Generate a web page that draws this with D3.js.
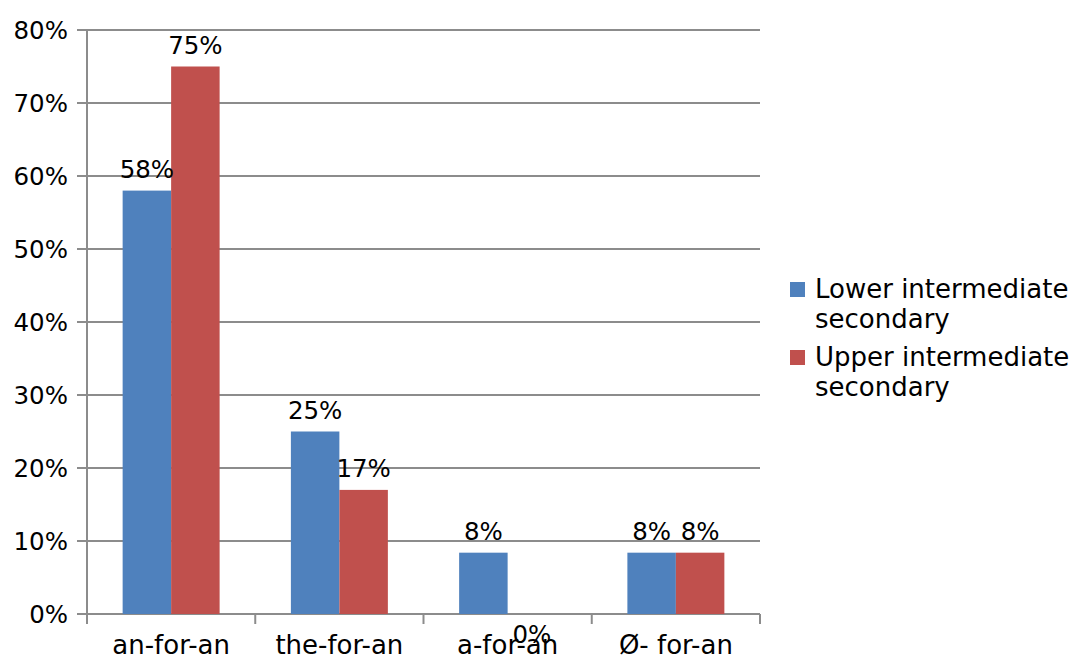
<!DOCTYPE html>
<meta charset="utf-8">
<style>
    body { margin: 0; background: #fff; }
    text { font-family: "DejaVu Sans", sans-serif; font-size: 24.5px; fill: #000; }
    .cat, .legend text { font-size: 26px; }
</style>
<svg width="1071" height="659"></svg>
<script src="https://cdnjs.cloudflare.com/ajax/libs/d3/7.8.5/d3.min.js"></script>
<script>

    var categories = ["an-for-an", "the-for-an", "a-for-an", "Ø- for-an"];
    var seriesNames = ["Lower intermediate secondary", "Upper intermediate secondary"];
    var lowerValues = [0.58, 0.25, 0.084, 0.084];
    var upperValues = [0.75, 0.17, 0, 0.084];
    var yTicks = [0, 0.1, 0.2, 0.3, 0.4, 0.5, 0.6, 0.7, 0.8];
    var colors = ["#4F81BD", "#C0504D"];

    var svg = d3.select("svg");
    var plotLeft = 87, plotRight = 760, plotTop = 30, plotBottom = 614;

    var x = d3.scaleBand().domain(categories).range([plotLeft, plotRight]);
    var xs = d3.scaleBand().domain([0, 1]).range([0, x.bandwidth()]).paddingInner(0).paddingOuter(0.735);
    var y = d3.scaleLinear().domain([0, 0.8]).range([plotBottom, plotTop]);

    // gridlines
    svg.append("g")
        .selectAll("line")
        .data(yTicks)
        .enter()
        .append("line")
        .attr("x1", plotLeft - 10)
        .attr("x2", plotRight)
        .attr("y1", function(d) { return y(d); })
        .attr("y2", function(d) { return y(d); })
        .attr("stroke", "#8c8c8c")
        .attr("stroke-width", 2);

    // y axis line
    svg.append("line")
        .attr("x1", plotLeft).attr("x2", plotLeft)
        .attr("y1", plotTop).attr("y2", plotBottom + 10)
        .attr("stroke", "#8c8c8c").attr("stroke-width", 2);

    // x tick marks at category boundaries
    var bounds = categories.map(function(c) { return x(c); }).concat([plotRight]);
    svg.append("g")
        .selectAll("line")
        .data(bounds.slice(1))
        .enter()
        .append("line")
        .attr("x1", function(d) { return d; })
        .attr("x2", function(d) { return d; })
        .attr("y1", plotBottom)
        .attr("y2", plotBottom + 10)
        .attr("stroke", "#8c8c8c")
        .attr("stroke-width", 2);

    // y labels
    svg.append("g")
        .selectAll("text")
        .data(yTicks)
        .enter()
        .append("text")
        .attr("x", plotLeft - 19)
        .attr("y", function(d) { return y(d) + 9; })
        .attr("text-anchor", "end")
        .text(d3.format(".0%"));

    // bars
    var rows = [];
    categories.forEach(function(c, i) {
        rows.push({cat: c, s: 0, v: lowerValues[i]});
        rows.push({cat: c, s: 1, v: upperValues[i]});
    });

    svg.append("g")
        .selectAll("rect")
        .data(rows)
        .enter()
        .append("rect")
        .attr("x", function(d) { return x(d.cat) + xs(d.s); })
        .attr("width", xs.bandwidth())
        .attr("y", function(d) { return y(d.v); })
        .attr("height", function(d) { return plotBottom - y(d.v); })
        .attr("fill", function(d) { return colors[d.s]; });

    // value labels
    svg.append("g")
        .selectAll("text")
        .data(rows)
        .enter()
        .append("text")
        .attr("x", function(d) { return x(d.cat) + xs(d.s) + xs.bandwidth() / 2; })
        .attr("y", function(d) { return d.v === 0 ? plotBottom + 29 : y(d.v) - 13; })
        .attr("text-anchor", "middle")
        .text(function(d) { return d3.format(".0%")(d.v); });

    // category labels
    svg.append("g")
        .selectAll("text")
        .data(categories)
        .enter()
        .append("text")
        .attr("class", "cat")
        .attr("x", function(d) { return x(d) + x.bandwidth() / 2; })
        .attr("y", 654)
        .attr("text-anchor", "middle")
        .text(function(d) { return d; });

    // legend
    var legend = svg.append("g")
        .attr("class", "legend")
        .selectAll("g")
        .data(seriesNames)
        .enter()
        .append("g")
        .attr("transform", function(d, i) { return "translate(790," + (282 + i * 68) + ")"; });

    legend.append("rect")
        .attr("width", 15)
        .attr("height", 15)
        .attr("fill", function(d, i) { return colors[i]; });

    legend.append("text")
        .attr("x", 25)
        .attr("y", 16)
        .text(function(d) { return d.split(" ").slice(0, 2).join(" "); });

    legend.append("text")
        .attr("x", 25)
        .attr("y", 46)
        .text(function(d) { return d.split(" ").slice(2).join(" "); });

</script>
